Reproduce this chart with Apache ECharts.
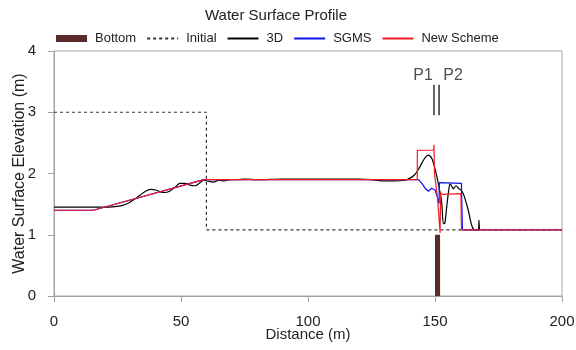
<!DOCTYPE html>
<html><head><meta charset="utf-8">
<script src="https://cdn.jsdelivr.net/npm/echarts@6/dist/echarts.min.js"></script>
<style>html,body{margin:0;padding:0;background:#fff}#c{width:576px;height:350px}</style>
</head><body><div id="c"></div>
<script>
// ---- data ----
const seriesNames = ['Bottom', 'Initial', '3D', 'SGMS', 'New Scheme'];
const xTicks = [0, 50, 100, 150, 200];
const yTicks = [0, 1, 2, 3, 4];
// bottom obstacle: [x start, x end, height]
const bottomBlock = [[150, 152, 1.0]];
const initialProfile = [[0, 3.0], [60, 3.0], [60, 1.08], [200, 1.08]];
const profile3D = [
  [0, 1.45], [20, 1.45], [24, 1.46], [27, 1.48], [29, 1.51], [31, 1.56], [34, 1.65], [36, 1.71], [38, 1.74],
  [40, 1.73], [42, 1.70], [43.5, 1.69], [45.5, 1.71], [47.5, 1.77], [49.5, 1.84], [51.5, 1.84], [53.5, 1.81],
  [55.5, 1.80], [57.5, 1.85], [59, 1.89], [61, 1.87], [62.7, 1.86], [65, 1.89], [67, 1.88], [69.3, 1.90],
  [72, 1.90], [75, 1.91], [80, 1.90], [90, 1.91], [100, 1.91], [110, 1.91], [120, 1.91], [125, 1.90],
  [129, 1.88], [134, 1.88], [138, 1.89], [140, 1.92], [142, 1.98], [143.5, 2.07], [144.8, 2.17],
  [146.1, 2.26], [147.4, 2.30], [148.7, 2.25], [150, 2.08], [151.3, 1.84], [152.6, 1.54], [153.3, 1.18],
  [153.9, 1.19], [154.6, 1.45], [155.3, 1.70], [155.9, 1.83], [156.5, 1.80], [157.2, 1.75], [158.3, 1.80],
  [159.2, 1.76], [160.2, 1.73], [161, 1.68], [161.8, 1.59], [163.1, 1.40], [164.4, 1.16], [165.7, 1.08],
  [167.1, 1.08], [167.3, 1.24], [167.5, 1.08]
];
const profileSGMS = [
  [0, 1.40], [15.5, 1.40], [59, 1.90], [143.5, 1.90], [144.1, 1.89], [145, 1.83], [146.1, 1.76],
  [147.4, 1.71], [148, 1.74], [148.7, 1.76], [150, 1.73], [150.9, 1.62], [151.6, 1.51], [151.7, 1.85],
  [160.4, 1.84], [160.8, 1.08], [200, 1.08]
];
const profileNew = [
  [0, 1.40], [15.5, 1.40], [59, 1.90], [143, 1.90], [143.05, 2.38], [149.5, 2.38], [149.6, 2.47],
  [149.8, 2.0], [151, 1.6], [152, 1.03], [152.2, 1.68], [153, 1.66], [160.2, 1.67], [160.4, 1.08], [200, 1.08]
];
// gauge markers
const gaugeNames = ['P1', 'P2'];
const gaugeX = [149.6, 151.6];
const gaugeLineY = [2.95, 3.45];
const gaugeLabelX = [145.3, 157.1];
const gaugeLabelY = 3.6;

// ---- chart ----
const chart = echarts.init(document.getElementById('c'), null, {renderer: 'canvas'});
const FONT = 'Liberation Sans, Arial, sans-serif';
const gaugeSeries = gaugeX.map((x, i) => ({
  name: gaugeNames[i] + ' line', type: 'line', symbol: 'none', silent: true,
  data: [[x, gaugeLineY[0]], [x, gaugeLineY[1]]],
  lineStyle: {color: '#000', width: 1.2}, z: 5
}));
const hideSym = {opacity: 0};
const option = {
  animation: false,
  backgroundColor: '#fff',
  title: {text: 'Water Surface Profile', left: 200, top: 3,
    textStyle: {fontFamily: FONT, fontSize: 15, fontWeight: 'normal', color: '#222'}},
  legend: {
    left: 51, top: 27, itemWidth: 31, itemHeight: 7, itemGap: 10,
    textStyle: {fontFamily: FONT, fontSize: 13, color: '#222', padding: [0, 0, 0, 3]},
    data: [
      {name: seriesNames[0], icon: 'rect'},
      {name: seriesNames[1], itemStyle: hideSym}, {name: seriesNames[2], itemStyle: hideSym},
      {name: seriesNames[3], itemStyle: hideSym}, {name: seriesNames[4], itemStyle: hideSym}
    ]
  },
  grid: {left: 54, right: 14, top: 51, bottom: 54, outerBoundsMode: 'none', containLabel: false,
    show: true, borderColor: '#a8a8a8', borderWidth: 1, backgroundColor: 'transparent'},
  xAxis: {
    type: 'value', min: xTicks[0], max: xTicks[xTicks.length - 1], interval: 50,
    name: 'Distance (m)', nameLocation: 'middle', nameGap: 31, nameMoveOverlap: false,
    nameTextStyle: {fontFamily: FONT, fontSize: 15, color: '#222', verticalAlign: 'top'},
    axisLine: {show: true, lineStyle: {color: '#a0a0a0'}},
    axisTick: {show: true, length: 6, lineStyle: {color: '#a0a0a0'}},
    axisLabel: {fontFamily: FONT, fontSize: 15, color: '#222', margin: 18},
    splitLine: {show: false}
  },
  yAxis: {
    type: 'value', min: yTicks[0], max: yTicks[yTicks.length - 1], interval: 1,
    name: 'Water Surface Elevation (m)', nameLocation: 'middle', nameGap: 26, nameMoveOverlap: false,
    nameTextStyle: {fontFamily: FONT, fontSize: 16, color: '#222', verticalAlign: 'bottom'},
    axisLine: {show: true, lineStyle: {color: '#a0a0a0'}},
    axisTick: {show: true, length: 6, lineStyle: {color: '#a0a0a0'}},
    axisLabel: {fontFamily: FONT, fontSize: 15, color: '#222', margin: 18},
    splitLine: {show: false}
  },
  series: [
    {
      name: seriesNames[0], type: 'custom', data: bottomBlock,
      encode: {x: [0, 1], y: 2},
      itemStyle: {color: '#5b2b2b'},
      renderItem: function (params, api) {
        const p0 = api.coord([api.value(0), api.value(2)]);
        const p1 = api.coord([api.value(1), 0]);
        return {type: 'rect', shape: {x: p0[0], y: p0[1], width: p1[0] - p0[0], height: p1[1] - p0[1]},
          style: {fill: '#5b2b2b'}};
      }, z: 2
    },
    {name: seriesNames[1], type: 'line', symbol: 'none', data: initialProfile,
      lineStyle: {color: '#333', width: 1.2, type: [3, 3]}, itemStyle: {color: '#333'}, z: 3},
    {name: seriesNames[2], type: 'line', symbol: 'none', data: profile3D, smooth: 0.25,
      lineStyle: {color: '#000', width: 1.2}, itemStyle: {color: '#000'}, z: 4},
    {name: seriesNames[3], type: 'line', symbol: 'none', data: profileSGMS,
      lineStyle: {color: '#1010ee', width: 1.2}, itemStyle: {color: '#1010ee'}, z: 5},
    {name: seriesNames[4], type: 'line', symbol: 'none', data: profileNew,
      lineStyle: {color: '#ee1c24', width: 1.2}, itemStyle: {color: '#ee1c24'}, z: 6},
    ...gaugeSeries,
    {
      name: 'gauge labels', type: 'scatter', symbolSize: 0, silent: true,
      data: gaugeNames.map((n, i) => ({name: n, value: [gaugeLabelX[i], gaugeLabelY]})),
      label: {show: true, position: 'inside', formatter: '{b}', fontFamily: FONT, fontSize: 16, color: '#222'}
    }
  ]
};
chart.setOption(option);
</script></body></html>
